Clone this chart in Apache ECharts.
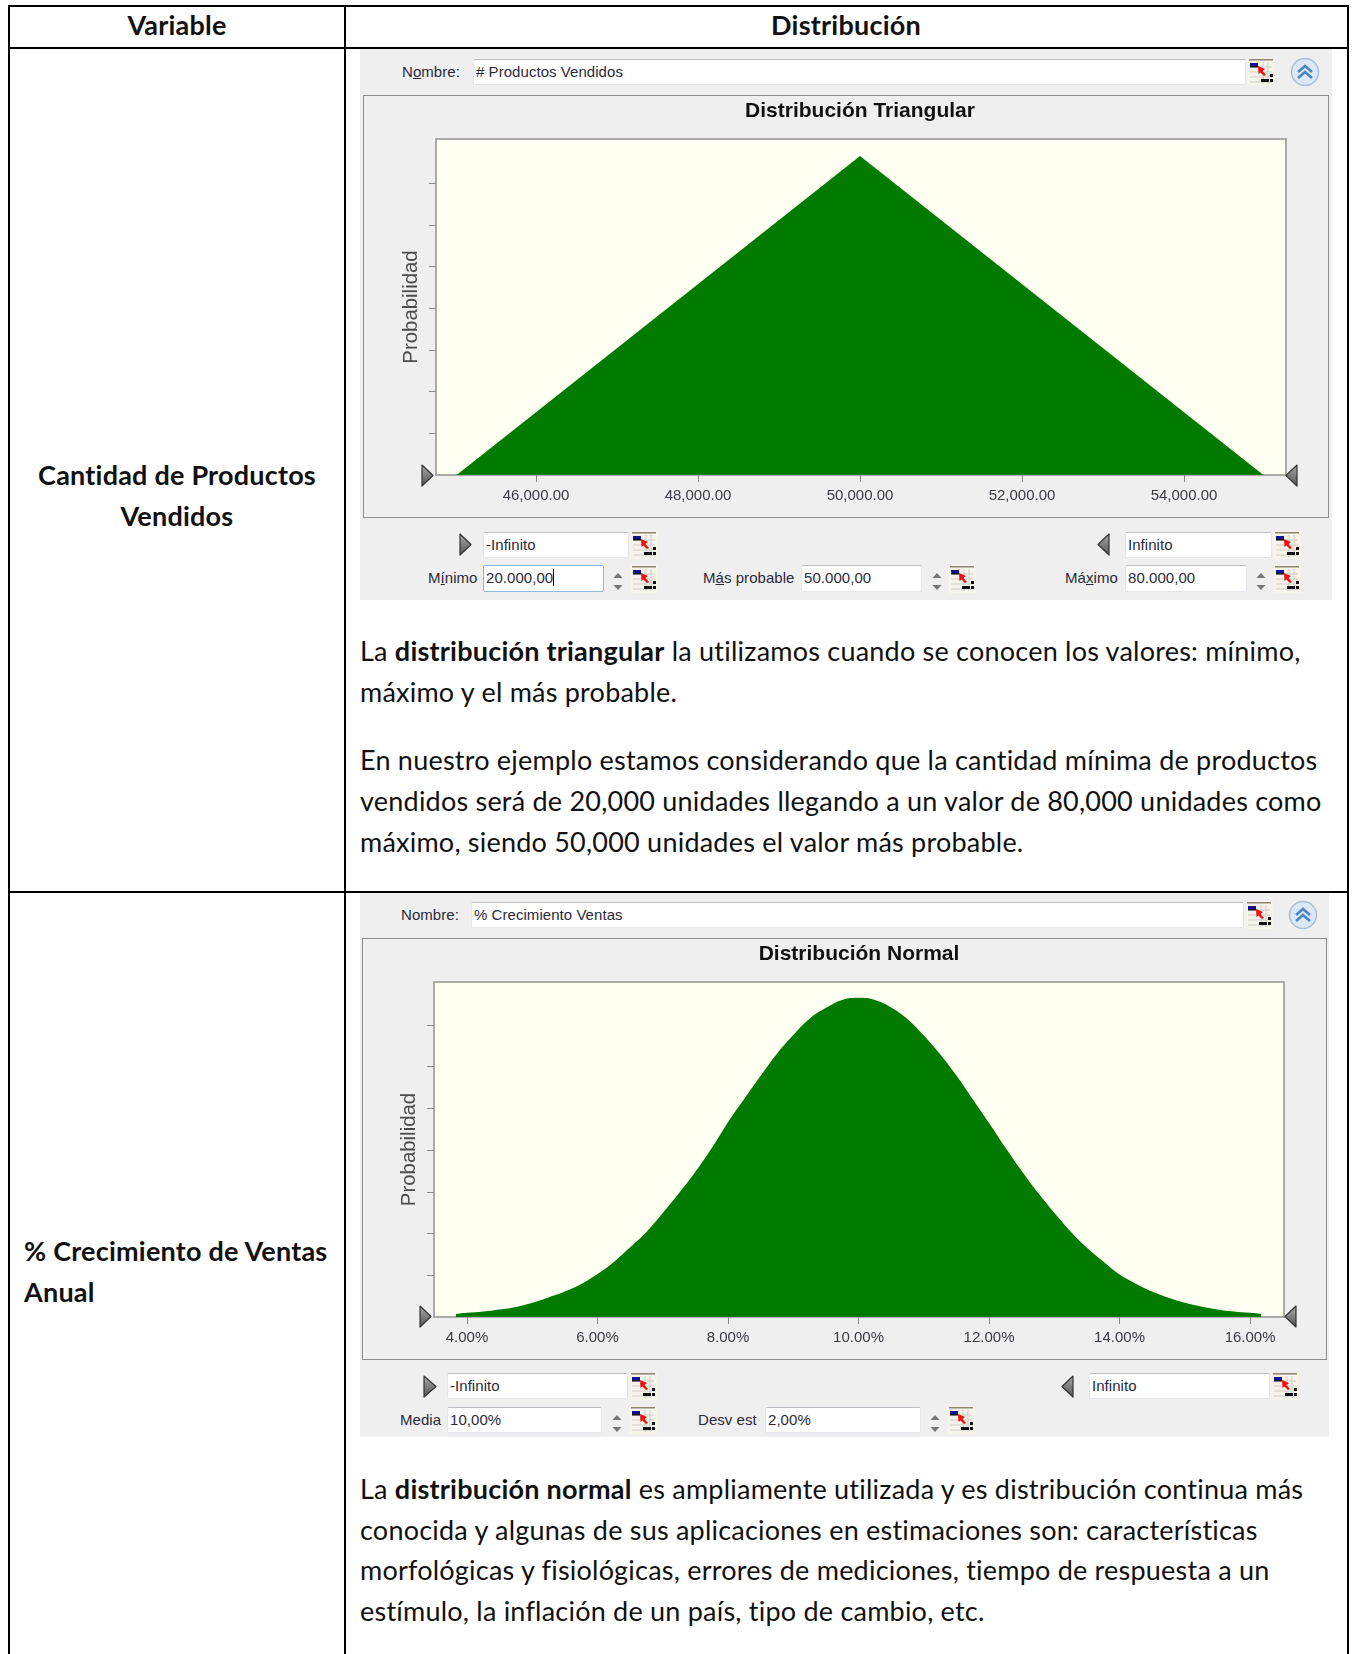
<!DOCTYPE html>
<html>
<head>
<meta charset="utf-8">
<title>Distribuciones</title>
<script src="https://cdn.jsdelivr.net/npm/echarts@6/dist/echarts.min.js"></script>
<style>
html, body { margin: 0; padding: 0; background: #fff; }
#page { position: relative; width: 1353px; height: 1654px; overflow: hidden; font-family: 'Liberation Sans', Arial, sans-serif; }
#page > * { position: absolute; }
.doc { font-family: Lato, sans-serif; font-size: 27px; color: #111; white-space: nowrap; line-height: 30px; letter-spacing: 0.22px; }
.ui { font-size: 15px; color: #2a2a3a; white-space: nowrap; line-height: 20px; letter-spacing: 0.05px; }
.field { background: #fff; border: 1px solid #e3e6ec; border-top-color: #bdbdc4; box-sizing: border-box; border-radius: 2px; font-size: 15px; line-height: 24px; padding-left: 2px; color: #2a2a3a; white-space: nowrap; letter-spacing: 0.05px; }
.focus { border: 1px solid #8db9e4; }
.caret { border-right: 1.5px solid #000; }
</style>
</head>
<body>
<div id="page"></div>
<script>
// datos (eje y en unidades de marca)
const triX = [45020, 50000, 54980]
const triProb = [0, 7.65, 0]
const triTicks = [46000, 48000, 50000, 52000, 54000]
const normX = [3.83, 4, 4.25, 4.5, 4.75, 5, 5.25, 5.5, 5.75, 6, 6.25, 6.5, 6.75, 7, 7.25, 7.5, 7.75, 8, 8.25, 8.5, 8.75, 9, 9.25, 9.5, 9.75, 10,
  10.25, 10.5, 10.75, 11, 11.25, 11.5, 11.75, 12, 12.25, 12.5, 12.75, 13, 13.25, 13.5, 13.75, 14, 14.25, 14.5, 14.75, 15, 15.25, 15.5, 15.75, 16, 16.17]
const normProb = [0.07, 0.1, 0.13, 0.18, 0.24, 0.34, 0.47, 0.61, 0.79, 1.03, 1.32, 1.67, 2.04, 2.49, 2.97, 3.48, 4.05, 4.67, 5.23, 5.78, 6.31, 6.76, 7.15, 7.41, 7.6, 7.65,
  7.6, 7.42, 7.14, 6.75, 6.3, 5.79, 5.22, 4.65, 4.06, 3.5, 2.98, 2.5, 2.05, 1.66, 1.33, 1.02, 0.8, 0.61, 0.46, 0.34, 0.25, 0.18, 0.13, 0.1, 0.07]
const normTicks = [4, 6, 8, 10, 12, 14, 16]
const probTicks = [1, 2, 3, 4, 5, 6, 7]

const page = document.getElementById('page')

function put(l, t, w, h, cls, html, css) {
  const d = document.createElement('div')
  d.className = cls || ''
  d.style.cssText = `left:${l}px;top:${t}px;` + (w ? `width:${w}px;` : '') + (h ? `height:${h}px;` : '') + (css || '')
  d.innerHTML = html || ''
  page.appendChild(d)
  return d
}
function doc(x, cy, html, center) {
  put(x, cy - 15, 0, 0, 'doc', html, center ? 'transform:translateX(-50%);' : '')
}
function label(x, cy, html) {
  put(x, cy - 10, 0, 0, 'ui', html)
}
function field(x0, y0, x1, y1, html, cls) {
  put(x0, y0, x1 - x0, y1 - y0, 'field ' + (cls || ''), html)
}
function arrow(x0, y0, x1, y1, right, z) {
  const pts = right ? `1,1 ${x1 - x0 - 1},${(y1 - y0) / 2} 1,${y1 - y0 - 1}` : `${x1 - x0 - 1},1 1,${(y1 - y0) / 2} ${x1 - x0 - 1},${y1 - y0 - 1}`
  put(x0, y0, x1 - x0, y1 - y0, '', `<svg width="${x1 - x0}" height="${y1 - y0}"><defs><linearGradient id="g${x0}${y0}" x1="0" y1="0" x2="0" y2="1"><stop offset="0" stop-color="#a8a8a8"/><stop offset="1" stop-color="#555"/></linearGradient></defs><polygon points="${pts}" fill="url(#g${x0}${y0})" stroke="#333" stroke-width="1.2" stroke-linejoin="round"/></svg>`, 'z-index:5;')
}
function spin(cx, y0) {
  put(cx - 6, y0, 12, 22, '', '<svg width="12" height="22"><polygon points="6,3 10.5,8 1.5,8" fill="#777"/><polygon points="6,20 10.5,15 1.5,15" fill="#777"/></svg>')
}
function refIcon(x, y) {
  put(x, y, 28, 28, '', `<svg width="28" height="28"><rect width="28" height="28" fill="#f5f3ea"/><rect x="2" y="1" width="24" height="1.5" fill="#8a8672"/>
<path d="M3 9H25M3 14H25M3 19H25M3 24H25M16 4V26M21 4V26" stroke="#cfcfc8" fill="none"/><rect x="3" y="5" width="8" height="3" fill="#12128a"/><rect x="3" y="8" width="8" height="1.5" fill="#111"/>
<polygon points="11,8 18,11 15.5,13 19,17 17,18 13.5,14.5 11.5,16" fill="#f01010"/><rect x="14" y="21" width="8" height="3" fill="#111"/><rect x="23" y="16" width="3" height="3" fill="#111"/><rect x="23" y="21" width="3" height="3" fill="#111"/></svg>`)
}
function chevrons(cx, cy) {
  put(cx - 15, cy - 15, 30, 30, '', `<svg width="30" height="30"><circle cx="15" cy="15" r="13.5" fill="#dce8f5" stroke="#a9bfd8" stroke-width="1.5"/><path d="M8 15L15 9L22 15M8 21L15 15L22 21" fill="none" stroke="#4a86c8" stroke-width="2.6"/></svg>`)
}

// tabla
put(8, 5, 1341, 2, '', '', 'background:#000;')
put(8, 47, 1341, 2, '', '', 'background:#000;')
put(8, 891, 1341, 2, '', '', 'background:#000;')
put(8, 5, 2, 1649, '', '', 'background:#000;')
put(344, 5, 2, 1649, '', '', 'background:#000;')
put(1347, 5, 2, 1649, '', '', 'background:#000;')

doc(177, 25, '<b>Variable</b>', true)
doc(846, 25, '<b>Distribución</b>', true)
doc(177, 475, '<b>Cantidad de Productos</b>', true)
doc(177, 516, '<b>Vendidos</b>', true)
doc(24, 1251, '<b>% Crecimiento de Ventas</b>')
doc(24, 1292, '<b>Anual</b>')
doc(360, 651, 'La <b>distribución triangular</b> la utilizamos cuando se conocen los valores: mínimo,')
doc(360, 692, 'máximo y el más probable.')
doc(360, 760, 'En nuestro ejemplo estamos considerando que la cantidad mínima de productos')
doc(360, 801, 'vendidos será de 20,000 unidades llegando a un valor de 80,000 unidades como')
doc(360, 842, 'máximo, siendo 50,000 unidades el valor más probable.')
doc(360, 1489, 'La <b>distribución normal</b> es ampliamente utilizada y es distribución continua más')
doc(360, 1530, 'conocida y algunas de sus aplicaciones en estimaciones son: características')
doc(360, 1570, 'morfológicas y fisiológicas, errores de mediciones, tiempo de respuesta a un')
doc(360, 1611, 'estímulo, la inflación de un país, tipo de cambio, etc.')

// panel 1
put(360, 49, 972, 551, '', '', 'background:#efefef;')
put(363, 95, 966, 423, '', '', 'box-sizing:border-box;border:1px solid #8c8c8c;border-width:1.5px;')
label(402, 72, 'N<u>o</u>mbre:')
field(473, 59, 1246, 85, '# Productos Vendidos')
refIcon(1247, 58)
chevrons(1305, 72)
const chart1 = put(363, 95, 966, 423)
arrow(421, 464, 434, 487, true)
arrow(1285, 464, 1298, 487, false)
arrow(459, 533, 472, 556, true)
field(483, 532, 629, 558, '-Infinito')
refIcon(630, 531)
label(428, 578, 'M<u>í</u>nimo')
field(483, 565, 604, 592, '<span class="caret">20.000,00</span>', 'focus')
spin(618, 570)
refIcon(630, 565)
label(703, 578, 'M<u>á</u>s probable')
field(801, 565, 922, 592, '50.000,00')
spin(937, 570)
refIcon(948, 565)
arrow(1097, 533, 1110, 556, false)
field(1125, 532, 1272, 558, 'Infinito')
refIcon(1273, 531)
label(1065, 578, 'Má<u>x</u>imo')
field(1125, 565, 1247, 592, '80.000,00')
spin(1261, 570)
refIcon(1273, 565)

// panel 2
put(360, 893, 969, 544, '', '', 'background:#efefef;')
put(362, 938, 965, 422, '', '', 'box-sizing:border-box;border:1px solid #8c8c8c;border-width:1.5px;')
label(401, 915, 'Nombre:')
field(471, 902, 1244, 928, '% Crecimiento Ventas')
refIcon(1245, 901)
chevrons(1303, 915)
const chart2 = put(362, 938, 965, 422)
arrow(419, 1305, 432, 1328, true)
arrow(1284, 1305, 1297, 1328, false)
arrow(423, 1375, 437, 1398, true)
field(447, 1373, 628, 1399, '-Infinito')
refIcon(629, 1372)
label(400, 1420, 'Media')
field(447, 1407, 602, 1433, '10,00%')
spin(617, 1412)
refIcon(629, 1406)
label(698, 1420, 'Desv est')
field(765, 1407, 921, 1433, '2,00%')
spin(935, 1412)
refIcon(947, 1406)
arrow(1061, 1375, 1074, 1398, false)
field(1089, 1373, 1270, 1399, 'Infinito')
refIcon(1271, 1372)

function drawChart(dom, conf) {
  const myChart = echarts.init(dom, null, { renderer: 'canvas' })
  myChart.setOption({
    animation: false,
    title: {
      text: conf.title,
      left: conf.titleX,
      top: 1,
      textAlign: 'center',
      textStyle: { fontFamily: 'Liberation Sans', fontSize: 21, fontWeight: 'bold', color: '#111' }
    },
    grid: {
      show: true,
      left: conf.grid[0],
      top: 44,
      right: conf.grid[1],
      bottom: 43,
      backgroundColor: '#fffff2',
      borderColor: '#aaaaaa',
      borderWidth: 2
    },
    xAxis: {
      type: 'value',
      min: conf.xMin,
      max: conf.xMax,
      splitLine: { show: false },
      axisLine: { lineStyle: { color: '#aaaaaa', width: 2 } },
      axisTick: { customValues: conf.ticks, length: 7, lineStyle: { color: '#888', width: 1 } },
      axisLabel: {
        customValues: conf.ticks,
        formatter: conf.fmt,
        margin: 13,
        fontFamily: 'Liberation Sans',
        fontSize: 15,
        color: '#3a3a44'
      }
    },
    yAxis: {
      type: 'value',
      min: 0,
      max: conf.yMax,
      name: 'Probabilidad',
      nameLocation: 'middle',
      nameGap: 15,
      nameTextStyle: { fontFamily: 'Liberation Sans', fontSize: 20.4, color: '#4c4c4c' },
      splitLine: { show: false },
      axisLine: { show: true, lineStyle: { color: '#aaaaaa', width: 2 } },
      axisTick: { show: true, customValues: probTicks, length: 7, lineStyle: { color: '#888', width: 1 } },
      axisLabel: { show: false }
    },
    series: [
      {
        type: 'line',
        data: conf.x.map((v, i) => [v, conf.y[i]]),
        showSymbol: false,
        silent: true,
        smooth: conf.smooth,
        lineStyle: { width: 0 },
        areaStyle: { color: '#007b00', opacity: 1 }
      }
    ]
  })
}

drawChart(chart1, {
  title: 'Distribución Triangular',
  titleX: 492,
  grid: [73, 43],
  xMin: 44765,
  xMax: 55259,
  yMax: 8.06,
  ticks: triTicks,
  fmt: (v) => v.toLocaleString('en-US', { minimumFractionDigits: 2 }),
  x: triX,
  y: triProb,
  smooth: false
})
drawChart(chart2, {
  title: 'Distribución Normal',
  titleX: 492,
  grid: [72, 43],
  xMin: 3.494,
  xMax: 16.52,
  yMax: 8.03,
  ticks: normTicks,
  fmt: (v) => v.toFixed(2) + '%',
  x: normX,
  y: normProb,
  smooth: 0.4
})
</script>
</body>
</html>
